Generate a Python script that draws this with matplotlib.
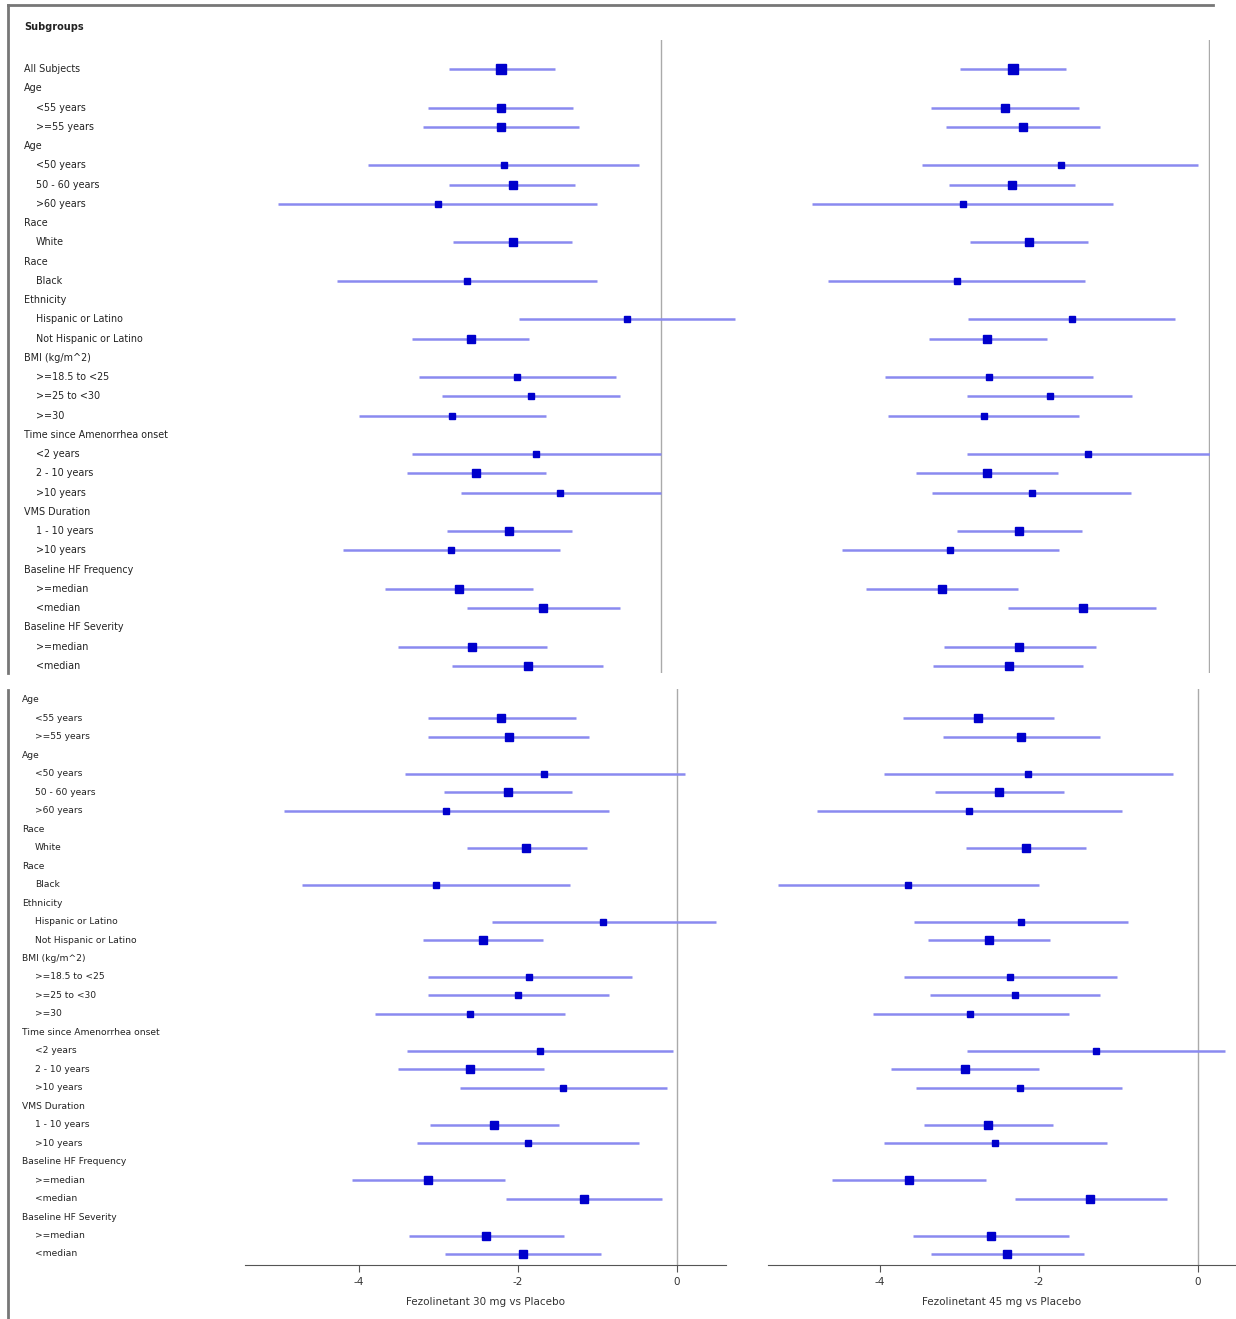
import numpy as np
import matplotlib
matplotlib.use("Agg")
from matplotlib import pyplot as plt
from matplotlib.transforms import blended_transform_factory

plt.rcParams['font.family'] = ['DejaVu Sans']
plt.rcParams['axes.unicode_minus'] = False

nan = np.nan

# subgroup labels (top block has "All Subjects", bottom block starts with "Age")
top_labels = ['All Subjects', 'Age', '<55 years', '>=55 years', 'Age', '<50 years',
              '50 - 60 years', '>60 years', 'Race', 'White', 'Race', 'Black', 'Ethnicity',
              'Hispanic or Latino', 'Not Hispanic or Latino', 'BMI (kg/m^2)',
              '>=18.5 to <25', '>=25 to <30', '>=30', 'Time since Amenorrhea onset',
              '<2 years', '2 - 10 years', '>10 years', 'VMS Duration', '1 - 10 years',
              '>10 years', 'Baseline HF Frequency', '>=median', '<median',
              'Baseline HF Severity', '>=median', '<median']
bottom_labels = top_labels[1:]
headers = {'All Subjects', 'Age', 'Race', 'Ethnicity', 'BMI (kg/m^2)',
           'Time since Amenorrhea onset', 'VMS Duration', 'Baseline HF Frequency',
           'Baseline HF Severity'}

# relative subgroup weight (drives square size)
top_weight = [100, nan, 55, 50, nan, 25, 50, 25, nan, 65, nan, 25, nan, 25, 70, nan,
              35, 35, 30, nan, 25, 50, 30, nan, 55, 25, nan, 55, 55, nan, 55, 55]
bottom_weight = top_weight[1:]

# top block, 30 mg
tl_est = [-1.93, nan, -1.93, -1.93, nan, -1.89, -1.78, -2.69, nan, -1.78, nan, -2.34, nan,
          -0.41, -2.29, nan, -1.73, -1.57, -2.52, nan, -1.51, -2.23, -1.22, nan, -1.83,
          -2.53, nan, -2.43, -1.42, nan, -2.28, -1.60]
tl_lo = [-2.55, nan, -2.81, -2.87, nan, -3.53, -2.55, -4.61, nan, -2.51, nan, -3.90, nan,
         -1.71, -3.00, nan, -2.92, -2.64, -3.64, nan, -3.00, -3.06, -2.41, nan, -2.58,
         -3.83, nan, -3.33, -2.34, nan, -3.17, -2.52]
tl_hi = [-1.28, nan, -1.06, -0.99, nan, -0.27, -1.04, -0.77, nan, -1.07, nan, -0.77, nan,
         0.89, -1.59, nan, -0.54, -0.49, -1.39, nan, 0.00, -1.39, 0.00, nan, -1.07,
         -1.22, nan, -1.54, -0.49, nan, -1.37, -0.70]

# top block, 45 mg
tr_est = [-2.36, nan, -2.46, -2.24, nan, -1.78, -2.37, -2.96, nan, -2.17, nan, -3.04, nan,
          -1.65, -2.67, nan, -2.65, -1.92, -2.71, nan, -1.46, -2.67, -2.13, nan, -2.29,
          -3.12, nan, -3.22, -1.52, nan, -2.29, -2.41]
tr_lo = [-3.00, nan, -3.35, -3.17, nan, -3.46, -3.13, -4.78, nan, -2.88, nan, -4.59, nan,
         -2.90, -3.37, nan, -3.90, -2.92, -3.87, nan, -2.92, -3.53, -3.34, nan, -3.04,
         -4.42, nan, -4.13, -2.42, nan, -3.19, -3.33]
tr_hi = [-1.72, nan, -1.57, -1.31, nan, -0.13, -1.61, -1.16, nan, -1.46, nan, -1.49, nan,
         -0.41, -1.95, nan, -1.40, -0.93, -1.57, nan, 0.25, -1.82, -0.94, nan, -1.53,
         -1.81, nan, -2.30, -0.64, nan, -1.36, -1.52]

# bottom block, 30 mg
bl_est = [nan, -2.21, -2.11, nan, -1.67, -2.13, -2.91, nan, -1.90, nan, -3.03, nan, -0.93,
          -2.44, nan, -1.86, -2.00, -2.60, nan, -1.72, -2.60, -1.43, nan, -2.30, -1.87,
          nan, -3.13, -1.17, nan, -2.40, -1.94]
bl_lo = [nan, -3.13, -3.13, nan, -3.42, -2.93, -4.94, nan, -2.64, nan, -4.72, nan, -2.33,
         -3.19, nan, -3.13, -3.13, -3.80, nan, -3.40, -3.51, -2.73, nan, -3.11, -3.27,
         nan, -4.09, -2.15, nan, -3.37, -2.92]
bl_hi = [nan, -1.27, -1.11, nan, 0.10, -1.32, -0.86, nan, -1.13, nan, -1.35, nan, 0.49,
         -1.69, nan, -0.57, -0.86, -1.41, nan, -0.05, -1.67, -0.13, nan, -1.48, -0.48,
         nan, -2.16, -0.19, nan, -1.42, -0.96]

# bottom block, 45 mg
br_est = [nan, -2.77, -2.23, nan, -2.14, -2.50, -2.88, nan, -2.16, nan, -3.65, nan, -2.23,
          -2.63, nan, -2.36, -2.30, -2.87, nan, -1.28, -2.93, -2.24, nan, -2.64, -2.55,
          nan, -3.64, -1.36, nan, -2.60, -2.40]
br_lo = [nan, -3.71, -3.21, nan, -3.95, -3.31, -4.79, nan, -2.92, nan, -5.28, nan, -3.57,
         -3.40, nan, -3.70, -3.37, -4.09, nan, -2.91, -3.86, -3.55, nan, -3.45, -3.95,
         nan, -4.60, -2.30, nan, -3.58, -3.36]
br_hi = [nan, -1.81, -1.23, nan, -0.31, -1.69, -0.96, nan, -1.41, nan, -2.00, nan, -0.88,
         -1.86, nan, -1.02, -1.23, -1.62, nan, 0.34, -2.00, -0.96, nan, -1.82, -1.14,
         nan, -2.67, -0.39, nan, -1.62, -1.43]

W, H = 1236, 1319
fig = plt.figure(figsize=(W / 100, H / 100), dpi=100)


def px_axes(x0, y0, x1, y1):
    # pixel box (top-left origin) -> figure axes
    return fig.add_axes([x0 / W, 1 - y1 / H, (x1 - x0) / W, (y1 - y0) / H])


def forest(ax, est, lo, hi, weight, xlim, ylim, show_x):
    rows = np.arange(len(est))
    est, lo, hi, weight = map(np.asarray, (est, lo, hi, weight))
    ok = ~np.isnan(est)
    ax.hlines(rows[ok], lo[ok], hi[ok], color='#8a8af0', lw=1.8, zorder=2)
    for r in rows[ok]:
        ms = 7.6 * np.sqrt(weight[r] / 100)
        ax.plot(est[r], r, 's', ms=ms, color='#0000cc', mec='#0000cc', zorder=3)
    ax.axvline(0, color='#aaaaaa', lw=1, zorder=1)
    ax.set_xlim(*xlim)
    ax.set_ylim(*ylim)
    ax.set_yticks([])
    for s in ['top', 'right', 'left']:
        ax.spines[s].set_visible(False)
    if show_x:
        ax.spines['bottom'].set_color('#555555')
        ax.set_xticks([-4, -2, 0])
        ax.tick_params(axis='x', length=5, colors='#555555', labelsize=7.5,
                       labelcolor='#333333')
    else:
        ax.spines['bottom'].set_visible(False)
        ax.set_xticks([])
    ax.patch.set_alpha(0)


def row_labels(ax, labels, x_head, x_sub, size):
    tr = blended_transform_factory(fig.transFigure, ax.transData)
    for i, lab in enumerate(labels):
        x = x_head if lab in headers else x_sub
        ax.text(x / W, i, lab, transform=tr, fontsize=size, color='#222222',
                va='center', ha='left', clip_on=False)


# top block: rows 69 px .. 666 px
top_step = (666 - 69) / 31
top_ylim = ((673 - 69) / top_step, (40 - 69) / top_step)
ax_tl = px_axes(240, 40, 745, 673)
forest(ax_tl, tl_est, tl_lo, tl_hi, top_weight,
       ((240 - 661) / 83, (745 - 661) / 83), top_ylim, False)
ax_tr = px_axes(760, 40, 1210, 673)
forest(ax_tr, tr_est, tr_lo, tr_hi, top_weight,
       ((760 - 1209) / 83, (1210 - 1209) / 83), top_ylim, False)
row_labels(ax_tl, top_labels, 24, 36, 6.9)
fig.text(24 / W, 1 - 27 / H, 'Subgroups', fontsize=7, fontweight='bold',
         color='#222222', va='center')

# bottom block: rows 700 px .. 1254 px
bot_step = (1254 - 700) / 30
bot_ylim = ((1265 - 700) / bot_step, (689 - 700) / bot_step)
ax_bl = px_axes(245, 689, 726, 1265)
forest(ax_bl, bl_est, bl_lo, bl_hi, bottom_weight,
       ((245 - 677) / 79.5, (726 - 677) / 79.5), bot_ylim, True)
ax_br = px_axes(768, 689, 1236, 1265)
forest(ax_br, br_est, br_lo, br_hi, bottom_weight,
       ((768 - 1198) / 79.5, (1236 - 1198) / 79.5), bot_ylim, True)
row_labels(ax_bl, bottom_labels, 22, 35, 6.6)
ax_bl.set_xlabel('Fezolinetant 30 mg vs Placebo', fontsize=7.5, color='#333333', labelpad=7)
ax_br.set_xlabel('Fezolinetant 45 mg vs Placebo', fontsize=7.5, color='#333333', labelpad=7)

# outer frame of the screenshot
frame = fig.add_axes([0, 0, 1, 1])
frame.set_xlim(0, W)
frame.set_ylim(H, 0)
frame.axis('off')
frame.patch.set_alpha(0)
frame.plot([8, 1213], [5, 5], color='#777777', lw=2)
frame.plot([8, 8], [5, 673], color='#777777', lw=2)
frame.plot([8, 8], [690, H], color='#777777', lw=2)

fig.savefig('out.png', dpi=100)
